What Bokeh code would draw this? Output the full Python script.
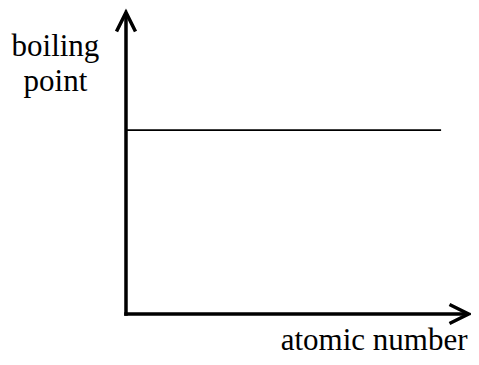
from bokeh.plotting import figure
from bokeh.models import Range1d, Arrow, OpenHead, Label, ColumnDataSource
from bokeh.embed import file_html
from bokeh.resources import INLINE

# data (conceptual sketch: boiling point constant vs atomic number)
atomic_number = [0, 92]
boiling_point = [61, 61]
axis_extent_x = [0, 100]
axis_extent_y = [0, 100]
x_axis_label = "atomic number"
y_axis_label = ["boiling", "point"]

p = figure(width=471, height=357, output_backend="svg", toolbar_location=None,
           x_range=Range1d(-36.64, 100.88), y_range=Range1d(-14.43, 103.98),
           x_axis_location=None, y_axis_location=None, min_border=0)
p.outline_line_color = None
p.xgrid.visible = False
p.ygrid.visible = False
p.background_fill_color = "white"
p.border_fill_color = "white"

src = ColumnDataSource(dict(x=atomic_number, y=boiling_point))
p.line("x", "y", source=src, line_color="black", line_width=1.8)

def head():
    return OpenHead(size=19, line_width=3.5, line_color="black", line_join="miter")

p.add_layout(Arrow(x_start=axis_extent_x[0], y_start=axis_extent_y[0],
                   x_end=axis_extent_x[0], y_end=axis_extent_y[1],
                   line_width=3.5, line_color="black", line_cap="square", end=head()))
p.add_layout(Arrow(x_start=axis_extent_x[0], y_start=axis_extent_y[0],
                   x_end=axis_extent_x[1], y_end=axis_extent_y[0],
                   line_width=3.5, line_color="black", line_cap="square", end=head()))

font = "Liberation Serif"
p.add_layout(Label(x=-20.6, y=83.4, text=y_axis_label[0], text_align="center",
                   text_font=font, text_font_size="31px", text_color="black"))
p.add_layout(Label(x=-20.6, y=71.8, text=y_axis_label[1], text_align="center",
                   text_font=font, text_font_size="31px", text_color="black"))
p.add_layout(Label(x=99.7, y=-14.2, text=x_axis_label, text_align="right",
                   text_font=font, text_font_size="31px", text_color="black"))

open("out.html", "w").write(file_html(p, INLINE))
